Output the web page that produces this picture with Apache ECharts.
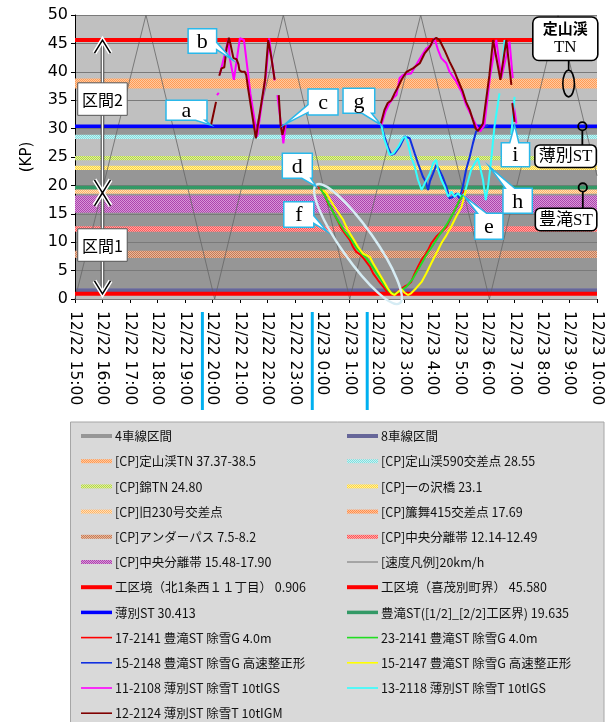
<!DOCTYPE html>
<html>
<head>
<meta charset="utf-8">
<script src="https://cdn.jsdelivr.net/npm/echarts@6/dist/echarts.min.js"></script>
<style>
  html, body { margin: 0; padding: 0; background: #ffffff; }
  #chart { width: 613px; height: 722px; }
</style>
</head>
<body>
<div id="chart"></div>
<script>
// ---------- time helpers (times are "day hh:mm" in December) ----------
const YEAR = 2012;
const HOUR = 3600000;
function toMs(s) {
  const parts = s.split(' ');
  const hm = parts[1].split(':').map(Number);
  return Date.UTC(YEAR, 11, Number(parts[0]), hm[0], hm[1]);
}
const X_START = '22 15:00';
const X_END = '23 10:00';
const KP_MIN = 0, KP_MAX = 50, KP_STEP = 5;

// ---------- road sections (KP ranges) ----------
const fourLaneSections = [[1.9, 22.7], [28.55, 30.41]];
const eightLaneSections = [[0.906, 1.9]];

// ---------- check points ----------
const cpJozankeiTN = [37.37, 38.5];
const cpJozankei590 = 28.55;
const cpNishikiTN = 24.80;
const cpIchinosawa = 23.1;
const cpOld230 = 18.9;
const cpMisumai415 = 17.69;
const cpUnderpass = [7.5, 8.2];
const cpMedian1 = [12.14, 12.49];
const cpMedian2 = [15.48, 17.90];

// ---------- boundaries / stations ----------
const boundaryNorth = 0.906;
const boundaryKimobetsu = 45.580;
const stationUsubetsu = 30.413;
const stationToyotaki = 19.635;

// ---------- 20 km/h speed guide (zig-zag vertices) ----------
const speedGuide = [
  ['22 15:00', 0], ['22 17:35', 50], ['22 20:05', 0], ['22 22:35', 50],
  ['23 1:00', 0], ['23 3:35', 50], ['23 6:05', 0], ['23 8:35', 50], ['23 10:00', 21.7]
];

// ---------- vehicle tracks [time, KP]; null = no data ----------
const truck17_2141 = [
  ['22 23:47', 19.8], ['22 23:58', 19.2], ['23 0:05', 18.3], ['23 0:13', 16.8], ['23 0:20', 16.0],
  ['23 0:27', 14.8], ['23 0:35', 13.6], ['23 0:42', 12.4], ['23 0:49', 11.6], ['23 1:00', 10.4],
  ['23 1:07', 9.2], ['23 1:14', 8.3], ['23 1:25', 7.7], ['23 1:33', 6.9], ['23 1:44', 5.7],
  ['23 1:51', 4.5], ['23 2:02', 3.3], ['23 2:13', 2.2], ['23 2:23', 1.1], ['23 2:31', 0.9],
  ['23 2:42', 0.9], ['23 2:49', 1.6], ['23 3:00', 2.2], ['23 3:07', 2.5], ['23 3:14', 3.0],
  ['23 3:22', 4.5], ['23 3:29', 5.7], ['23 3:37', 6.9], ['23 3:44', 7.7], ['23 3:51', 8.6],
  ['23 3:58', 9.8], ['23 4:09', 11.0], ['23 4:20', 11.8], ['23 4:31', 12.7], ['23 4:42', 14.5],
  ['23 4:53', 16.2], ['23 5:00', 17.4], ['23 5:07', 18.6], ['23 5:11', 19.2]
];
const truck23_2141 = [
  ['22 23:55', 19.5], ['23 0:05', 18.3], ['23 0:16', 16.5], ['23 0:27', 14.8], ['23 0:38', 13.3],
  ['23 0:50', 11.8], ['23 1:04', 10.4], ['23 1:15', 9.0], ['23 1:26', 8.0], ['23 1:36', 7.2],
  ['23 1:47', 6.0], ['23 1:58', 4.6], ['23 2:09', 3.3], ['23 2:18', 2.2], ['23 2:27', 1.3],
  ['23 2:38', 0.9], ['23 2:49', 1.3], ['23 3:04', 2.2], ['23 3:18', 3.6], ['23 3:33', 5.7],
  ['23 3:47', 7.7], ['23 4:02', 9.5], ['23 4:16', 11.3], ['23 4:31', 13.0], ['23 4:46', 15.1],
  ['23 5:00', 17.4], ['23 5:07', 18.3]
];
const truck15_2148 = [
  ['23 2:09', 30.6], ['23 2:16', 28.6], ['23 2:23', 26.8], ['23 2:31', 25.4], ['23 2:38', 25.6],
  ['23 2:49', 26.8], ['23 3:00', 28.6], ['23 3:11', 28.3], ['23 3:22', 25.6], ['23 3:29', 23.9],
  ['23 3:40', 21.5], ['23 3:46', 20.7], ['23 3:51', 19.2], ['23 3:55', 20.7], ['23 4:02', 22.1],
  ['23 4:09', 23.6], ['23 4:16', 22.7], ['23 4:23', 21.5], ['23 4:31', 19.8], ['23 4:38', 17.7],
  ['23 4:46', 18.0], ['23 4:53', 18.6], ['23 5:00', 17.7], ['23 5:07', 19.8], ['23 5:14', 22.7],
  ['23 5:22', 25.0], ['23 5:29', 27.4], ['23 5:36', 29.5], ['23 5:47', 30.0], ['23 6:02', 30.6]
];
const truck15_2147 = [
  ['23 0:02', 19.2], ['23 0:09', 18.6], ['23 0:20', 17.1], ['23 0:31', 15.7], ['23 0:46', 13.9],
  ['23 0:56', 12.1], ['23 1:07', 10.7], ['23 1:18', 9.2], ['23 1:29', 8.0], ['23 1:44', 7.4],
  ['23 1:51', 6.3], ['23 2:02', 4.8], ['23 2:13', 3.3], ['23 2:23', 1.9], ['23 2:31', 1.0],
  ['23 2:38', 0.7], ['23 2:46', 1.3], ['23 2:53', 1.7], ['23 3:00', 1.1], ['23 3:07', 0.7],
  ['23 3:14', 1.0], ['23 3:25', 1.9], ['23 3:37', 3.0], ['23 3:47', 4.5], ['23 3:58', 6.3],
  ['23 4:09', 8.0], ['23 4:20', 9.8], ['23 4:31', 11.2], ['23 4:42', 12.8], ['23 4:53', 14.6],
  ['23 5:04', 16.2], ['23 5:11', 18.3], ['23 5:14', 19.2]
];
const truck11_2108 = [
  ['22 20:10', 35.9], ['22 20:14', 36.3], null,
  ['22 20:16', 39.5], ['22 20:30', 44.0], ['22 20:35', 45.8], ['22 20:38', 42.4], ['22 20:47', 38.6],
  ['22 21:00', 45.9], ['22 21:09', 45.6], ['22 21:18', 39.7], ['22 21:23', 36.2], ['22 21:38', 28.6],
  ['22 21:49', 35.0], ['22 21:57', 39.4], ['22 22:04', 45.9], ['22 22:10', 42.0], ['22 22:16', 38.5], null,
  ['22 22:22', 35.9], ['22 22:35', 27.4], ['22 22:40', 30.6], null,
  ['23 2:09', 30.6], ['23 2:18', 33.0], ['23 2:27', 34.5], ['23 2:36', 35.5], ['23 2:42', 35.9],
  ['23 2:49', 38.9], ['23 2:57', 39.5], ['23 3:14', 39.7], ['23 3:25', 41.2], ['23 3:36', 42.7],
  ['23 3:47', 44.1], ['23 3:58', 44.7], ['23 4:05', 45.9], ['23 4:13', 43.8], ['23 4:20', 42.4],
  ['23 4:31', 41.5], ['23 4:38', 40.0], ['23 4:51', 38.5], ['23 5:04', 36.5], ['23 5:14', 34.2],
  ['23 5:25', 32.4], ['23 5:36', 30.6], ['23 5:45', 29.5], ['23 5:54', 30.6], ['23 6:07', 39.5],
  ['23 6:20', 45.6], ['23 6:31', 38.9], ['23 6:49', 45.3], ['23 6:56', 38.9], null,
  ['23 6:57', 34.7], ['23 7:04', 30.9]
];
const truck13_2118 = [
  ['23 2:09', 30.6], ['23 2:16', 28.0], ['23 2:27', 25.4], ['23 2:35', 25.6], ['23 2:46', 26.8],
  ['23 2:56', 28.3], ['23 3:02', 28.6], ['23 3:07', 27.4], ['23 3:14', 25.0], ['23 3:22', 23.3],
  ['23 3:29', 21.0], ['23 3:37', 19.2], ['23 3:44', 20.4], ['23 3:55', 22.1], ['23 4:02', 23.9],
  ['23 4:09', 24.5], ['23 4:13', 22.7], ['23 4:20', 21.0], ['23 4:27', 19.8], ['23 4:35', 18.0],
  ['23 4:42', 18.9], ['23 4:49', 18.0], ['23 4:56', 18.6], ['23 5:04', 18.0], ['23 5:11', 18.6],
  ['23 5:18', 20.7], ['23 5:25', 22.7], ['23 5:33', 23.9], ['23 5:40', 24.8], ['23 5:44', 24.5],
  ['23 5:51', 21.0], ['23 5:57', 17.4], ['23 6:02', 19.8], ['23 6:09', 24.5], ['23 6:16', 30.3],
  ['23 6:27', 36.2], null, ['23 6:35', 42.0], ['23 6:38', 45.6], ['23 6:41', 44.0], null,
  ['23 6:53', 29.0], ['23 7:00', 35.6]
];
const truck12_2124 = [
  ['22 19:57', 30.6], ['22 20:08', 34.7], null,
  ['22 20:15', 39.3], ['22 20:20', 40.6], ['22 20:26', 40.8], ['22 20:31', 44.1], ['22 20:36', 46.0],
  ['22 20:40', 44.7], ['22 20:46', 42.4], ['22 20:53', 42.2], ['22 20:57', 41.3], ['22 20:59', 40.3],
  ['22 21:04', 40.0], ['22 21:11', 40.0], ['22 21:14', 39.4], ['22 21:18', 37.1], ['22 21:35', 28.3],
  ['22 21:55', 38.6], ['22 22:02', 45.6], ['22 22:09', 42.4], ['22 22:16', 38.6], null,
  ['22 22:25', 35.9], ['22 22:29', 30.6], ['22 22:33', 28.9], ['22 22:38', 30.6], null,
  ['23 2:08', 30.9], ['23 2:16', 33.3], ['23 2:23', 34.5], ['23 2:31', 35.0], ['23 2:38', 36.2],
  ['23 2:42', 36.5], ['23 2:46', 37.4], ['23 2:53', 38.6], ['23 3:04', 40.0], ['23 3:18', 40.6],
  ['23 3:33', 41.5], ['23 3:44', 43.3], ['23 3:55', 44.4], ['23 4:02', 45.6], ['23 4:09', 46.0],
  ['23 4:16', 45.6], ['23 4:27', 43.8], ['23 4:38', 41.8], ['23 4:49', 40.0], ['23 4:56', 38.6],
  ['23 5:07', 36.5], ['23 5:14', 34.7], ['23 5:22', 33.3], ['23 5:29', 31.5], ['23 5:35', 30.0],
  ['23 5:40', 29.6], ['23 5:47', 30.4], ['23 5:51', 30.9], ['23 6:05', 39.4], ['23 6:13', 45.6],
  ['23 6:29', 38.6], ['23 6:42', 45.6], ['23 6:53', 37.7], null, ['23 6:55', 34.5], ['23 7:00', 31.2]
];

// ---------- shift markers under the time axis ----------
const shiftMarks = ['22 20:00', '23 0:00', '23 2:00'];

// ---------- annotations ----------
const calloutLabels = ['a', 'b', 'c', 'd', 'f', 'g', 'e', 'h', 'i'];
const calloutTargets = [
  ['22 19:57', 30.6], ['22 20:44', 42.1], ['22 22:38', 30.75], ['22 23:47', 19.8], ['23 0:11', 11.85],
  ['23 2:09', 30.6], ['23 5:11', 18.0], ['23 6:05', 23.3], ['23 7:00', 30.6]
];
const sectionEnds = [boundaryNorth, 18.7, boundaryKimobetsu];
const sectionNames = ['区間1', '区間2'];
const sectionLabelKP = [9.5, 35.2];
const sectionAxisTime = '22 16:00';
const ringEnds = [['22 23:47', 20.1], ['23 2:49', -0.76]];

// ================= styling & layout =================
function dots(c1, c2) {
  const cv = document.createElement('canvas');
  cv.width = 2; cv.height = 2;
  const g = cv.getContext('2d');
  g.fillStyle = c2; g.fillRect(0, 0, 2, 2);
  g.fillStyle = c1; g.fillRect(0, 0, 1, 1); g.fillRect(1, 1, 1, 1);
  return { image: cv, repeat: 'repeat' };
}
const POINT_HALF = 0.38;
const RANGE_PAD = 0.3;
const asPoint = v => [v - POINT_HALF, v + POINT_HALF];
const asRange = r => [r[0] - RANGE_PAD, r[1] + RANGE_PAD];

const xMin = toMs(X_START), xMax = toMs(X_END);

function toSeriesData(track) {
  const out = [];
  let last = xMin;
  track.forEach(p => {
    if (p === null) { out.push([last + 1000, '-']); }
    else { last = toMs(p[0]); out.push([last, p[1]]); }
  });
  return out;
}

// legend entries: name, kind, fill/color, width
const legendEntries = [];

function bandSeries(name, ranges, fill, z, legendFill) {
  legendEntries.push({ name, kind: 'band', fill: legendFill || fill });
  return {
    type: 'line', name, data: [], symbol: 'none', silent: true, z,
    markArea: {
      silent: true, z,
      itemStyle: { color: fill, borderWidth: 0, opacity: 1 },
      label: { show: false },
      data: ranges.map(r => [{ yAxis: r[0] }, { yAxis: r[1] }])
    }
  };
}
function levelSeries(name, kp, color, width) {
  legendEntries.push({ name, kind: 'line', color, width });
  return {
    type: 'line', name, symbol: 'none', silent: true, z: 3,
    data: [[xMin, kp], [xMax, kp]],
    lineStyle: { color, width }
  };
}
function trackSeries(name, track, color, width, z) {
  legendEntries.push({ name, kind: 'line', color, width: Math.min(width, 1.6) });
  return {
    type: 'line', name, symbol: 'none', silent: true, z,
    connectNulls: false,
    data: toSeriesData(track),
    lineStyle: { color, width }
  };
}

const series = [
  bandSeries('4車線区間', fourLaneSections, '#969696', 1),
  bandSeries('8車線区間', eightLaneSections, '#666699', 1),
  bandSeries('[CP]定山渓TN 37.37-38.5', [asRange(cpJozankeiTN)], dots('#ff9b55', '#ffc9a0'), 2),
  bandSeries('[CP]定山渓590交差点 28.55', [asPoint(cpJozankei590)], dots('#7fdddd', '#c8f3f3'), 2),
  bandSeries('[CP]錦TN 24.80', [asPoint(cpNishikiTN)], dots('#b5d645', '#def0a0'), 2),
  bandSeries('[CP]一の沢橋 23.1', [asPoint(cpIchinosawa)], dots('#ffd63c', '#fff0a0'), 2),
  bandSeries('[CP]旧230号交差点', [asPoint(cpOld230)], dots('#ffb366', '#ffe0b8'), 2),
  bandSeries('[CP]簾舞415交差点 17.69', [asPoint(cpMisumai415)], dots('#ff8c4c', '#ffc49a'), 2),
  bandSeries('[CP]アンダーパス 7.5-8.2', [asRange(cpUnderpass)], dots('#c87a55', '#e6b89c'), 2),
  bandSeries('[CP]中央分離帯 12.14-12.49', [asRange(cpMedian1)], dots('#ff5555', '#ffa8a8'), 2),
  bandSeries('[CP]中央分離帯 15.48-17.90', [asRange(cpMedian2)], dots('#ad45ad', '#d896d8'), 2),
];
legendEntries.push({ name: '[速度凡例]20km/h', kind: 'line', color: '#707070', width: 1 });
series.push({
  type: 'line', name: '[速度凡例]20km/h', symbol: 'none', silent: true, z: 2.5,
  data: toSeriesData(speedGuide), lineStyle: { color: '#666666', width: 0.8 }
});
series.push(
  levelSeries('工区境（北1条西１１丁目） 0.906', boundaryNorth, '#ff0000', 4),
  levelSeries('工区境（喜茂別町界） 45.580', boundaryKimobetsu, '#ff0000', 4),
  levelSeries('薄別ST 30.413', stationUsubetsu, '#0000ff', 3.5),
  levelSeries('豊滝ST([1/2]_[2/2]工区界) 19.635', stationToyotaki, '#339966', 3.5),
  trackSeries('17-2141 豊滝ST 除雪G 4.0m', truck17_2141, '#ff0000', 2, 4),
  trackSeries('23-2141 豊滝ST 除雪G 4.0m', truck23_2141, '#22dd22', 2, 4.1),
  trackSeries('15-2148 豊滝ST 除雪G 高速整正形', truck15_2148, '#1030e0', 2, 4),
  trackSeries('15-2147 豊滝ST 除雪G 高速整正形', truck15_2147, '#ffff00', 2, 4.2),
  trackSeries('11-2108 薄別ST 除雪T 10tIGS', truck11_2108, '#ff00ff', 2, 4),
  trackSeries('13-2118 薄別ST 除雪T 10tIGS', truck13_2118, '#33ffff', 2, 4),
  trackSeries('12-2124 薄別ST 除雪T 10tIGM', truck12_2124, '#800000', 2, 4.1)
);

function timeLabel(v) {
  const d = new Date(v);
  return (d.getUTCMonth() + 1) + '/' + d.getUTCDate() + ' ' + d.getUTCHours() + ':' +
    String(d.getUTCMinutes()).padStart(2, '0');
}

const option = {
  animation: false,
  backgroundColor: '#ffffff',
  grid: { left: 75, right: 16, top: 15, bottom: 423, show: true, backgroundColor: '#c0c0c0', borderWidth: 0 },
  xAxis: {
    type: 'value', min: xMin, max: xMax, interval: HOUR,
    axisLine: { lineStyle: { color: '#000', width: 1 } },
    axisTick: { show: true, length: 4, lineStyle: { color: '#000' } },
    splitLine: { show: false },
    axisLabel: {
      rotate: -90, margin: 12, formatter: timeLabel, color: '#000',
      fontFamily: 'DejaVu Sans', fontSize: 15.5, showMinLabel: true, showMaxLabel: true
    }
  },
  yAxis: {
    type: 'value', min: KP_MIN, max: KP_MAX, interval: KP_STEP, z: 1.5,
    name: '(KP)', nameLocation: 'middle', nameGap: 40, nameRotate: 90,
    nameTextStyle: { fontFamily: 'DejaVu Sans', fontSize: 15, color: '#000' },
    axisLine: { show: true, lineStyle: { color: '#000', width: 1 } },
    axisTick: { show: true, length: 4, lineStyle: { color: '#000' } },
    splitLine: { show: true, lineStyle: { color: '#7a7a7a', width: 1 } },
    axisLabel: { fontFamily: 'DejaVu Sans', fontSize: 16, color: '#000', margin: 7 }
  },
  series
};

const chart = echarts.init(document.getElementById('chart'), null, { renderer: 'canvas' });
chart.setOption(option);

// ================= overlay graphics =================
const px = p => chart.convertToPixel({ gridIndex: 0 }, [toMs(p[0]), p[1]]);
const G = [];

// shift markers beside time labels
shiftMarks.forEach(s => {
  const x = px([s, 0])[0] - 10;
  G.push({ type: 'rect', shape: { x: x - 1.5, y: 312, width: 3, height: 98 }, style: { fill: '#00b0f0' }, z: 50 });
});

// callouts (box + wedge pointing at the target)
const calloutBoxes = [
  { dx: -45, dy: -25, w: 41, h: 20, side: 'bottom', b: [0.72, 0.95] },
  { dx: -44.4, dy: -31, w: 28.5, h: 24.5, side: 'right', b: [0.55, 0.85] },
  { dx: 23.3, dy: -35.3, w: 30, h: 26, side: 'left', b: [0.6, 0.9] },
  { dx: -34, dy: -33.2, w: 30, h: 25, side: 'bottom', b: [0.65, 0.95] },
  { dx: -43.5, dy: -30, w: 30, h: 25.6, side: 'right', b: [0.55, 0.85] },
  { dx: -38.3, dy: -36.9, w: 31.7, h: 25, side: 'bottom', b: [0.6, 0.9] },
  { dx: 10, dy: 16.5, w: 28.3, h: 26, side: 'top', b: [0.1, 0.42] },
  { dx: 13.6, dy: 21.6, w: 29.3, h: 25, side: 'top', b: [0.08, 0.4] },
  { dx: -13.3, dy: 17.5, w: 28.3, h: 24, side: 'top', b: [0.3, 0.62] }
];
function calloutPoints(L, T, w, h, side, b, tip) {
  const R = L + w, B = T + h;
  if (side === 'bottom') return [[L, T], [R, T], [R, B], [L + w * b[1], B], tip, [L + w * b[0], B], [L, B]];
  if (side === 'top') return [[L, T], [L + w * b[0], T], tip, [L + w * b[1], T], [R, T], [R, B], [L, B]];
  if (side === 'right') return [[L, T], [R, T], [R, T + h * b[0]], tip, [R, T + h * b[1]], [R, B], [L, B]];
  return [[L, T], [R, T], [R, B], [L, B], [L, T + h * b[1]], tip, [L, T + h * b[0]]];
}
calloutLabels.forEach((lab, i) => {
  const tip = px(calloutTargets[i]);
  const c = calloutBoxes[i];
  const L = tip[0] + c.dx, T = tip[1] + c.dy;
  G.push({
    type: 'polygon', z: 60,
    shape: { points: calloutPoints(L, T, c.w, c.h, c.side, c.b, tip) },
    style: { fill: '#ffffff', stroke: '#2ab8ea', lineWidth: 1.5, lineJoin: 'miter' }
  });
  G.push({
    type: 'text', z: 61,
    style: {
      text: lab, x: L + c.w / 2, y: T + c.h / 2 + 1, font: '22px "Liberation Serif"', fill: '#000',
      align: 'center', verticalAlign: 'middle', textAlign: 'center', textVerticalAlign: 'middle'
    }
  });
});

// ring around the descending tracks
(function () {
  const p1 = px(ringEnds[0]), p2 = px(ringEnds[1]);
  const cx = (p1[0] + p2[0]) / 2, cy = (p1[1] + p2[1]) / 2;
  const len = Math.hypot(p2[0] - p1[0], p2[1] - p1[1]);
  const ang = Math.atan2(p2[1] - p1[1], p2[0] - p1[0]);
  G.push({
    type: 'ellipse', z: 55, x: cx, y: cy, rotation: -ang,
    shape: { cx: 0, cy: 0, rx: len / 2, ry: 16.5 },
    style: { fill: 'none', stroke: '#d6ecf4', lineWidth: 2.5 }
  });
})();

// section arrows (区間1 / 区間2)
(function () {
  const x = px([sectionAxisTime, 0])[0];
  const yBot = px([sectionAxisTime, sectionEnds[0]])[1];
  const yMid = px([sectionAxisTime, sectionEnds[1]])[1];
  const yTop = px([sectionAxisTime, sectionEnds[2]])[1];
  G.push({ type: 'line', z: 56, shape: { x1: x, y1: yTop, x2: x, y2: yBot }, style: { stroke: '#333', lineWidth: 3.5 } });
  G.push({ type: 'line', z: 57, shape: { x1: x, y1: yTop + 1, x2: x, y2: yBot - 1 }, style: { stroke: '#fff', lineWidth: 1.6 } });
  const hw = 8, hl = 13;
  const heads = [
    [[x - hw, yTop + hl], [x, yTop], [x + hw, yTop + hl]],
    [[x - hw, yMid - hl], [x, yMid], [x + hw, yMid - hl]],
    [[x - hw, yMid + hl], [x, yMid], [x + hw, yMid + hl]],
    [[x - hw, yBot - hl], [x, yBot], [x + hw, yBot - hl]]
  ];
  heads.forEach(pts => {
    G.push({ type: 'polyline', z: 57, shape: { points: pts }, style: { stroke: '#fff', lineWidth: 4.5, fill: 'none' } });
    G.push({ type: 'polyline', z: 58, shape: { points: pts }, style: { stroke: '#000', lineWidth: 1.5, fill: 'none' } });
  });
  sectionNames.forEach((nm, i) => {
    const cy = px([sectionAxisTime, sectionLabelKP[i]])[1];
    const w = 49.5, h = 32.5;
    G.push({ type: 'rect', z: 59, shape: { x: x - w / 2, y: cy - h / 2, width: w, height: h },
      style: { fill: '#fff', stroke: '#555', lineWidth: 1 } });
    G.push({ type: 'text', z: 60, style: { text: nm, x: x, y: cy + 1, font: '16px "Noto Sans CJK JP"', fill: '#000',
      align: 'center', verticalAlign: 'middle', textAlign: 'center', textVerticalAlign: 'middle' } });
  });
})();

// station / tunnel tags on the right
(function () {
  // tunnel tag
  const tc = px(['23 8:58', (cpJozankeiTN[0] + cpJozankeiTN[1]) / 2]);
  G.push({ type: 'ellipse', z: 60, shape: { cx: tc[0], cy: tc[1], rx: 5.8, ry: 13.3 }, style: { fill: 'none', stroke: '#000', lineWidth: 1.6 } });
  G.push({ type: 'line', z: 60, shape: { x1: tc[0], y1: tc[1] - 13.3, x2: tc[0], y2: tc[1] - 23 }, style: { stroke: '#000', lineWidth: 1.6 } });
  G.push({ type: 'rect', z: 61, shape: { x: tc[0] - 35.8, y: tc[1] - 66.5, width: 65, height: 43.5, r: 6 },
    style: { fill: '#fff', stroke: '#000', lineWidth: 1.6 } });
  G.push({ type: 'text', z: 62, style: { text: '定山渓', x: tc[0] - 3.3, y: tc[1] - 55, font: 'bold 15px "Noto Sans CJK JP"', fill: '#000',
    align: 'center', verticalAlign: 'middle', textAlign: 'center', textVerticalAlign: 'middle' } });
  G.push({ type: 'text', z: 62, style: { text: 'TN', x: tc[0] - 3.3, y: tc[1] - 36, font: '17px "Liberation Serif"', fill: '#000',
    align: 'center', verticalAlign: 'middle', textAlign: 'center', textVerticalAlign: 'middle' } });

  // station tags
  const tags = [
    { text: '薄別ST', at: ['23 9:28', stationUsubetsu], lineTo: 18.7 },
    { text: '豊滝ST', at: ['23 9:29', stationToyotaki], lineTo: 20.8 }
  ];
  tags.forEach(tg => {
    const c = px(tg.at);
    G.push({ type: 'circle', z: 60, shape: { cx: c[0], cy: c[1], r: 4.2 }, style: { fill: 'none', stroke: '#000', lineWidth: 1.8 } });
    G.push({ type: 'line', z: 60, shape: { x1: c[0], y1: c[1] + 4.2, x2: c[0], y2: c[1] + tg.lineTo }, style: { stroke: '#000', lineWidth: 1.8 } });
    G.push({ type: 'rect', z: 61, shape: { x: c[0] - 47.5, y: c[1] + tg.lineTo, width: 61.5, height: 22.5, r: 5 },
      style: { fill: '#fff', stroke: '#000', lineWidth: 1.6 } });
    G.push({ type: 'text', z: 62, style: { text: tg.text, x: c[0] - 16.8, y: c[1] + tg.lineTo + 11.8,
      font: '17px "Liberation Serif", "Noto Sans CJK JP"', fill: '#000',
      align: 'center', verticalAlign: 'middle', textAlign: 'center', textVerticalAlign: 'middle' } });
  });
})();

// legend panel (two columns)
(function () {
  const boxL = 70.5, boxT = 422, boxR = 604;
  G.push({ type: 'rect', z: 40, shape: { x: boxL, y: boxT, width: boxR - boxL, height: 320 },
    style: { fill: '#d9d9d9', stroke: '#a6a6a6', lineWidth: 1 } });
  const order = [
    '4車線区間', '8車線区間',
    '[CP]定山渓TN 37.37-38.5', '[CP]定山渓590交差点 28.55',
    '[CP]錦TN 24.80', '[CP]一の沢橋 23.1',
    '[CP]旧230号交差点', '[CP]簾舞415交差点 17.69',
    '[CP]アンダーパス 7.5-8.2', '[CP]中央分離帯 12.14-12.49',
    '[CP]中央分離帯 15.48-17.90', '[速度凡例]20km/h',
    '工区境（北1条西１１丁目） 0.906', '工区境（喜茂別町界） 45.580',
    '薄別ST 30.413', '豊滝ST([1/2]_[2/2]工区界) 19.635',
    '17-2141 豊滝ST 除雪G 4.0m', '23-2141 豊滝ST 除雪G 4.0m',
    '15-2148 豊滝ST 除雪G 高速整正形', '15-2147 豊滝ST 除雪G 高速整正形',
    '11-2108 薄別ST 除雪T 10tIGS', '13-2118 薄別ST 除雪T 10tIGS',
    '12-2124 薄別ST 除雪T 10tIGM'
  ];
  const colX = [81, 347], symW = 31, rowY0 = 436, rowStep = 25.2;
  order.forEach((name, i) => {
    const e = legendEntries.find(q => q.name === name);
    const x = colX[i % 2], y = rowY0 + Math.floor(i / 2) * rowStep;
    if (e.kind === 'band') {
      G.push({ type: 'rect', z: 41, shape: { x: x, y: y - 2, width: symW, height: 4 }, style: { fill: e.fill } });
    } else {
      G.push({ type: 'line', z: 41, shape: { x1: x, y1: y, x2: x + symW, y2: y }, style: { stroke: e.color, lineWidth: e.width } });
    }
    G.push({ type: 'text', z: 42, style: { text: name, x: x + symW + 3, y: y + 0.5, font: '12.5px "Noto Sans CJK JP"', fill: '#111',
      align: 'left', verticalAlign: 'middle', textAlign: 'left', textVerticalAlign: 'middle' } });
  });
})();

chart.setOption({ graphic: { elements: G } });
</script>
</body>
</html>
